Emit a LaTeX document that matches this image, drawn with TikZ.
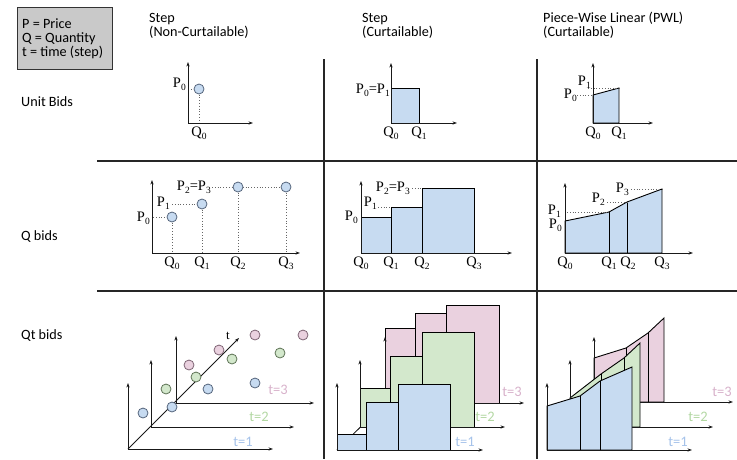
\documentclass[tikz,border=0pt]{standalone}
\usepackage{fontspec}
\setmainfont{Liberation Serif}
\newfontfamily\uisans{Carlito}
\usetikzlibrary{arrows.meta}
\definecolor{bluefill}{HTML}{C7DBF1}
\definecolor{bluedraw}{HTML}{55657C}
\definecolor{greenfill}{HTML}{D3E8CC}
\definecolor{greendraw}{HTML}{5E7356}
\definecolor{pinkfill}{HTML}{EAD1DF}
\definecolor{pinkdraw}{HTML}{7E6474}
\definecolor{bluetxt}{HTML}{A6C3EA}
\definecolor{greentxt}{HTML}{B2D7A2}
\definecolor{pinktxt}{HTML}{D8B2CB}
\definecolor{legendfill}{HTML}{C9C9C9}
\tikzset{
  ax/.style={line width=0.8pt, draw=black!90, -{Stealth[length=4.5pt,width=3.2pt]}},
  gridline/.style={line width=1.9pt, draw=black!85},
  dotl/.style={dotted, line width=0.8pt, draw=black!60},
  bid/.style={circle, minimum size=10pt, inner sep=0pt, line width=0.8pt},
  bbid/.style={bid, fill=bluefill, draw=bluedraw},
  gbid/.style={bid, fill=greenfill, draw=greendraw},
  pbid/.style={bid, fill=pinkfill, draw=pinkdraw},
  blk/.style={draw=black, line width=0.9pt},
  hdr/.style={font=\uisans\fontsize{14.2}{14}\selectfont, anchor=base west, inner sep=0pt},
  lbl/.style={font=\fontsize{14.5}{14.5}\selectfont, inner sep=0pt},
  qlbl/.style={lbl, anchor=north},
  plbl/.style={lbl, anchor=base east},
  tlbl/.style={font=\uisans\fontsize{14.5}{14}\selectfont, inner sep=0pt},
}
\newcommand\sbs[2]{#1\raisebox{-3pt}{\fontsize{9.5}{9.5}\selectfont #2}}
\begin{document}
\begin{tikzpicture}[x=1pt,y=-1pt]
\useasboundingbox (0,0) rectangle (737,459);
% legend
\draw[fill=legendfill, draw=black!80, line width=0.9pt] (17,7) rectangle (112,69);
\node[hdr] (lg1) at (22,28) {P = Price};
\node[hdr] (lg2) at (22,42) {Q = Quantity};
\node[hdr] (lg3) at (22,56) {t = time (step)};
% headers
\node[hdr] (h1a) at (149,22) {Step};
\node[hdr] (h1b) at (149,36) {(Non-Curtailable)};
\node[hdr] (h2a) at (362,22) {Step};
\node[hdr] (h2b) at (362,36) {(Curtailable)};
\node[hdr] (h3a) at (543,22) {Piece-Wise Linear (PWL)};
\node[hdr] (h3b) at (543,36) {(Curtailable)};
% row labels
\node[hdr] (r1) at (21,106) {Unit Bids};
\node[hdr] (r2) at (21,240) {Q bids};
\node[hdr] (r3) at (21,339) {Qt bids};
% grid
\draw[gridline] (97,161) -- (737,161);
\draw[gridline] (97,291) -- (737,291);
\draw[gridline] (324,59) -- (324,459);
\draw[gridline] (537,59) -- (537,459);

% ===== Row 1 =====
% col 1
\draw[dotl] (188,89) -- (199,89);
\draw[dotl] (199,89) -- (199,123);
\draw[ax] (188,123) -- (188,62);
\draw[ax] (188,123) -- (253,123);
\node[bbid] (u1c) at (199,89) {};
\node[plbl] (u1p) at (186,87) {\sbs{P}{0}};
\node[qlbl] (u1q) at (199,127) {\sbs{Q}{0}};
% col 2
\filldraw[blk, fill=bluefill] (391,123) rectangle (419,88);
\draw[ax] (391,123) -- (391,63);
\draw[ax] (391,123) -- (457,123);
\node[plbl] (u2p) at (390,93) {\sbs{P}{0}=\sbs{P}{1}};
\node[qlbl] (u2q0) at (391,127) {\sbs{Q}{0}};
\node[qlbl] (u2q1) at (419,127) {\sbs{Q}{1}};
% col 3
\filldraw[blk, fill=bluefill] (593,123) -- (593,95) -- (619,88) -- (619,123) -- cycle;
\draw[dotl] (577,95) -- (593,95);
\draw[dotl] (588,88) -- (619,88);
\draw[ax] (593,123) -- (593,63);
\draw[ax] (593,123) -- (653,123);
\node[plbl] (u3p1) at (591,85) {\sbs{P}{1}};
\node[plbl] (u3p0) at (577,98) {\sbs{P}{0}};
\node[qlbl] (u3q0) at (593,127) {\sbs{Q}{0}};
\node[qlbl] (u3q1) at (619,127) {\sbs{Q}{1}};

% ===== Row 2 =====
% col 1
\draw[dotl] (153,217) -- (172,217);
\draw[dotl] (172,204) -- (202,204);
\draw[dotl] (212,187) -- (286,187);
\foreach \x/\y in {172/217, 202/204, 238/187, 286/187}
  \draw[dotl] (\x,\y) -- (\x,253);
\draw[ax] (152,253) -- (152,180);
\draw[ax] (152,253) -- (300,253);
\node[bbid] (q1c0) at (172,217) {};
\node[bbid] (q1c1) at (202,204) {};
\node[bbid] (q1c2) at (238,187) {};
\node[bbid] (q1c3) at (286,187) {};
\node[plbl] (q1p0) at (150,221) {\sbs{P}{0}};
\node[plbl] (q1p1) at (170,206) {\sbs{P}{1}};
\node[plbl] (q1p2) at (211,190) {\sbs{P}{2}=\sbs{P}{3}};
\node[qlbl] (q1q0) at (172,257) {\sbs{Q}{0}};
\node[qlbl] (q1q1) at (202,257) {\sbs{Q}{1}};
\node[qlbl] (q1q2) at (238,257) {\sbs{Q}{2}};
\node[qlbl] (q1q3) at (286,257) {\sbs{Q}{3}};
% col 2
\filldraw[blk, fill=bluefill] (361,253) rectangle (391,217);
\filldraw[blk, fill=bluefill] (391,253) rectangle (422,207);
\filldraw[blk, fill=bluefill] (422,253) rectangle (474,188);
\draw[dotl] (378,207) -- (391,207);
\draw[dotl] (412,188) -- (422,188);
\draw[ax] (361,253) -- (361,181);
\draw[ax] (361,253) -- (512,253);
\node[plbl] (q2p0) at (358,220) {\sbs{P}{0}};
\node[plbl] (q2p1) at (377,206) {\sbs{P}{1}};
\node[plbl] (q2p2) at (410,191) {\sbs{P}{2}=\sbs{P}{3}};
\node[qlbl] (q2q0) at (361,257) {\sbs{Q}{0}};
\node[qlbl] (q2q1) at (391,257) {\sbs{Q}{1}};
\node[qlbl] (q2q2) at (422,257) {\sbs{Q}{2}};
\node[qlbl] (q2q3) at (474,257) {\sbs{Q}{3}};
% col 3
\filldraw[blk, fill=bluefill] (565,253) -- (565,221) -- (609,212) -- (627,202) -- (662,189) -- (662,253) -- cycle;
\draw[blk] (609,212) -- (609,253);
\draw[blk] (627,202) -- (627,253);
\draw[dotl] (567,212) -- (609,212);
\draw[dotl] (607,202) -- (627,202);
\draw[dotl] (631,189) -- (662,189);
\draw[ax] (565,253) -- (565,183);
\draw[ax] (565,253) -- (693,253);
\node[plbl] (q3p1) at (561,214) {\sbs{P}{1}};
\node[plbl] (q3p0) at (562,228) {\sbs{P}{0}};
\node[plbl] (q3p2) at (605,202) {\sbs{P}{2}};
\node[plbl] (q3p3) at (629,192) {\sbs{P}{3}};
\node[qlbl] (q3q0) at (565,257) {\sbs{Q}{0}};
\node[qlbl] (q3q1) at (609,257) {\sbs{Q}{1}};
\node[qlbl] (q3q2) at (628,257) {\sbs{Q}{2}};
\node[qlbl] (q3q3) at (662,257) {\sbs{Q}{3}};

% ===== Row 3 =====
% col 1
\draw[ax] (128,449) -- (128,383);
\draw[ax] (128,449) -- (273,449);
\draw[ax] (151,427) -- (151,360);
\draw[ax] (151,427) -- (294,427);
\draw[ax] (176,403) -- (176,336);
\draw[ax] (176,403) -- (314,403);
\draw[ax] (128,449) -- (239,338);
\node[lbl, font=\fontsize{13}{13}\selectfont] (tax) at (228,336) {t};
\node[pbid] (c3p0) at (189,365) {};
\node[pbid] (c3p1) at (219,350) {};
\node[pbid] (c3p2) at (255,335) {};
\node[pbid] (c3p3) at (303,335) {};
\node[gbid] (c3g0) at (166,389) {};
\node[gbid] (c3g1) at (196,377) {};
\node[gbid] (c3g2) at (232,359) {};
\node[gbid] (c3g3) at (280,353) {};
\node[bbid] (c3b0) at (143,413) {};
\node[bbid] (c3b1) at (172,407) {};
\node[bbid] (c3b2) at (208,389) {};
\node[bbid] (c3b3) at (255,383) {};
\node[tlbl, text=pinktxt] (c1t3) at (278,390) {t=3};
\node[tlbl, text=greentxt] (c1t2) at (259,417) {t=2};
\node[tlbl, text=bluetxt] (c1t1) at (243,442) {t=1};
% col 2
\filldraw[blk, fill=pinkfill] (385,403) rectangle (415,328);
\filldraw[blk, fill=pinkfill] (415,403) rectangle (446,313);
\filldraw[blk, fill=pinkfill] (446,403) rectangle (499,305);
\draw[ax] (385,403) -- (385,337);
\draw[ax] (385,403) -- (524,403);
\draw[line width=0.8pt] (337,450) -- (385,403);
\filldraw[blk, fill=greenfill] (360,427) rectangle (390,388);
\filldraw[blk, fill=greenfill] (390,427) rectangle (422,356);
\filldraw[blk, fill=greenfill] (422,427) rectangle (474,332);
\draw[ax] (360,427) -- (360,360);
\draw[ax] (360,427) -- (505,427);
\filldraw[blk, fill=bluefill] (337,450) rectangle (366,434);
\filldraw[blk, fill=bluefill] (366,450) rectangle (398,402);
\filldraw[blk, fill=bluefill] (398,450) rectangle (450,384);
\draw[ax] (337,450) -- (337,383);
\draw[ax] (337,450) -- (483,450);
\node[tlbl, text=pinktxt] (c2t3) at (512,392) {t=3};
\node[tlbl, text=greentxt] (c2t2) at (485,417) {t=2};
\node[tlbl, text=bluetxt] (c2t1) at (465,442) {t=1};
% col 3
\filldraw[blk, fill=pinkfill] (594,402) -- (594,358) -- (626,348) -- (648,333) -- (664,318) -- (664,402) -- cycle;
\draw[blk] (626,348) -- (626,402);
\draw[blk] (648,333) -- (648,402);
\draw[ax] (594,402) -- (594,337);
\draw[ax] (594,402) -- (733,402);
\filldraw[blk, fill=greenfill] (570,427) -- (570,398) -- (601,374) -- (624,358) -- (640,343) -- (640,427) -- cycle;
\draw[blk] (601,374) -- (601,427);
\draw[blk] (624,358) -- (624,427);
\draw[ax] (570,427) -- (570,360);
\draw[ax] (570,427) -- (713,427);
\filldraw[blk, fill=bluefill] (547,450) -- (547,406) -- (580,396) -- (600,381) -- (632,367) -- (632,450) -- cycle;
\draw[blk] (580,396) -- (580,450);
\draw[blk] (600,381) -- (600,450);
\draw[ax] (547,450) -- (547,383);
\draw[ax] (547,450) -- (692,450);
\node[tlbl, text=pinktxt] (c3t3) at (722,392) {t=3};
\node[tlbl, text=greentxt] (c3t2) at (698,417) {t=2};
\node[tlbl, text=bluetxt] (c3t1) at (678,442) {t=1};
\end{tikzpicture}
\end{document}
